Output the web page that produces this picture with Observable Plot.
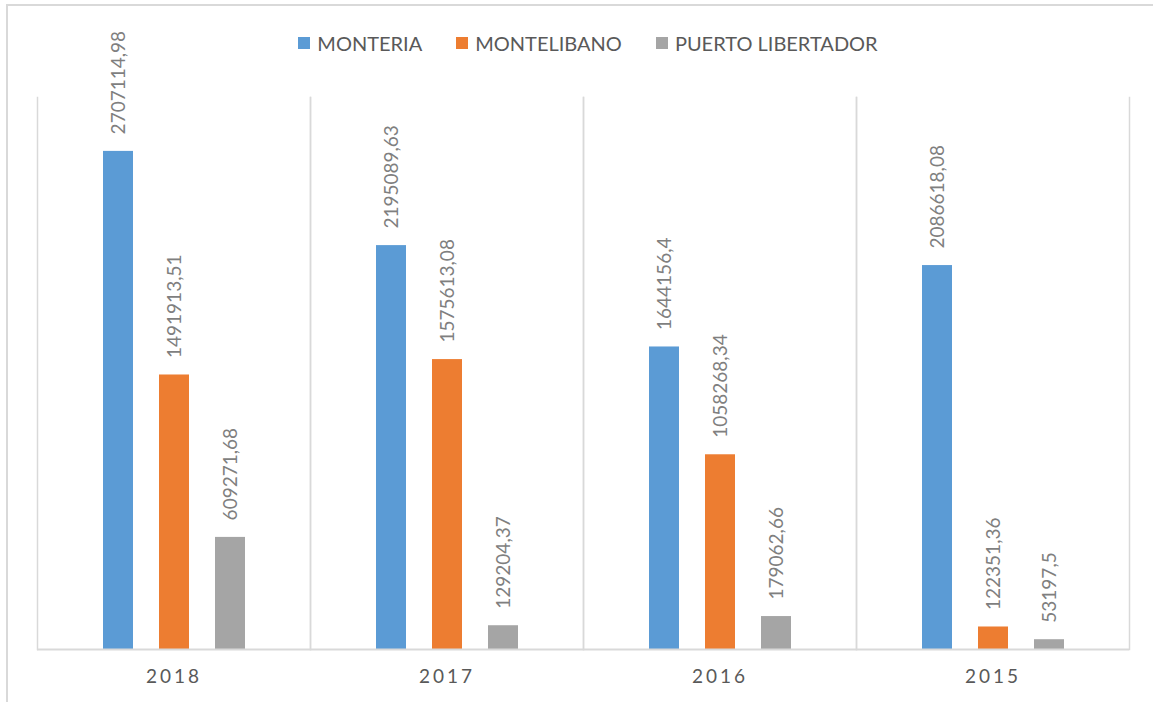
<!DOCTYPE html>
<html>
<head>
<meta charset="utf-8">
<script src="https://cdn.jsdelivr.net/npm/d3@7"></script>
<script src="https://cdn.jsdelivr.net/npm/@observablehq/plot@0.6"></script>
<style>
  body { margin: 0; background: #fff; font-family: Lato, "Open Sans", sans-serif; }
  #wrap { position: relative; width: 1153px; height: 702px; overflow: hidden; background: #fff; }
  #border { position: absolute; left: 6px; top: 4px; width: 1200px; height: 800px;
            border-top: 2px solid #d9d9d9; border-left: 2px solid #d9d9d9; }
  #legend { position: absolute; top: 31px; left: 0; width: 1176px; display: flex; justify-content: center;
            gap: 34px; font-size: 20px; color: #595959; }
  #legend .item { display: flex; align-items: center; gap: 7px; }
  #legend .sw { width: 12px; height: 12px; display: inline-block; }
  #chart { position: absolute; left: 0; top: 0; }
  .fxaxis text { letter-spacing: 3px; }
</style>
</head>
<body>
<div id="wrap">
  <div id="border"></div>
  <div id="legend"></div>
  <div id="chart"></div>
</div>
<script>
const years = ["2018", "2017", "2016", "2015"];
const series = ["MONTERIA", "MONTELIBANO", "PUERTO LIBERTADOR"];
const colors = ["#5b9bd5", "#ed7d31", "#a5a5a5"];
const monteria = [2707114.98, 2195089.63, 1644156.4, 2086618.08];
const montelibano = [1491913.51, 1575613.08, 1058268.34, 122351.36];
const puertoLibertador = [609271.68, 129204.37, 179062.66, 53197.5];

const valuesBySeries = [monteria, montelibano, puertoLibertador];
const data = [];
series.forEach((s, i) => {
  years.forEach((y, j) => {
    data.push({year: y, series: s, value: valuesBySeries[i][j]});
  });
});
const fmt = v => String(v).replace(".", ",");

// legend
const legend = document.getElementById("legend");
series.forEach((s, i) => {
  const item = document.createElement("div");
  item.className = "item";
  const sw = document.createElement("span");
  sw.className = "sw";
  sw.style.background = colors[i];
  const t = document.createElement("span");
  t.textContent = s;
  item.appendChild(sw);
  item.appendChild(t);
  legend.appendChild(item);
});

const chart = Plot.plot({
  width: 1153,
  height: 702,
  marginTop: 97,
  marginBottom: 53,
  marginLeft: 36,
  marginRight: 23,
  style: {fontFamily: "Lato, 'Open Sans', sans-serif", background: "transparent"},
  fx: {domain: years, padding: 0, axis: null},
  x: {domain: series, paddingInner: 0.469, paddingOuter: 1.16, axis: null},
  y: {domain: [0, 3000000], axis: null},
  color: {domain: series, range: colors},
  marks: [
    Plot.frame({anchor: "left", stroke: "#d9d9d9", strokeWidth: 1.5}),
    Plot.frame({anchor: "right", stroke: "#d9d9d9", strokeWidth: 1.5}),
    Plot.barY(data, {fx: "year", x: "series", y: "value", fill: "series"}),
    Plot.ruleY([0], {stroke: "#d9d9d9", strokeWidth: 2}),
    Plot.text(data, {fx: "year", x: "series", y: "value", text: d => fmt(d.value),
      rotate: -90, textAnchor: "start", lineAnchor: "middle", dy: -17,
      fontSize: 19, fill: "#7f7f7f"}),
    Plot.axisFx({anchor: "bottom", tickSize: 0, tickPadding: 20, fontSize: 19,
      color: "#595959", label: null, className: "fxaxis"})
  ]
});
document.getElementById("chart").appendChild(chart);
</script>
</body>
</html>
